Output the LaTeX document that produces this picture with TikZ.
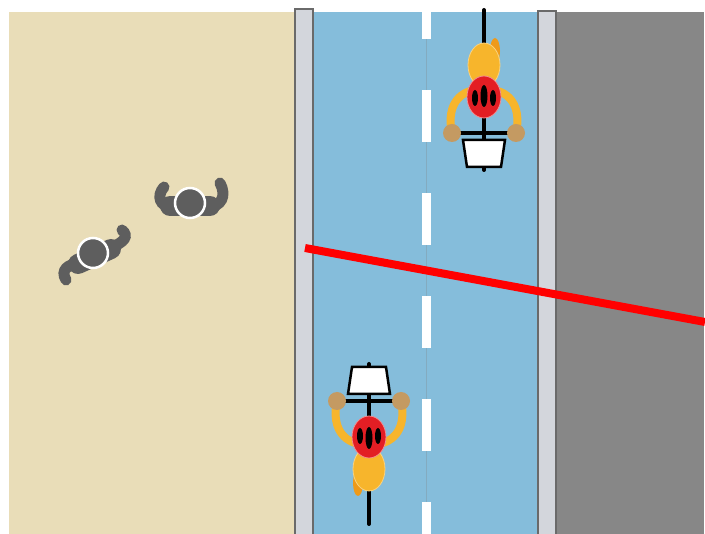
\documentclass[tikz,border=0pt]{standalone}
\usepackage{tikz}

\definecolor{sand}{HTML}{E9DDB8}
\definecolor{lane}{HTML}{85BDDB}
\definecolor{asphalt}{HTML}{878787}
\definecolor{curbfill}{HTML}{D3D6DC}
\definecolor{curbline}{HTML}{6A6A6A}
\definecolor{shirt}{HTML}{F7B52C}
\definecolor{pack}{HTML}{EE9A1A}
\definecolor{skin}{HTML}{C49A62}
\definecolor{helmet}{HTML}{E31E24}
\definecolor{walker}{HTML}{5E5E5E}

\tikzset{
  curb/.style={fill=curbfill,draw=curbline,line width=2.5pt},
  frame/.style={line width=4pt,line cap=round,black},
  arm/.style={draw=shirt,line width=8pt,line cap=round},
  limb/.style={draw=walker,line width=11pt,line cap=round},
  cyclist/.pic={
    \draw[frame] (0,-87) -- (0,73);
    \fill[pack] (11,-46) ellipse (5 and 13);
    \filldraw[fill=shirt,draw=shirt!60!white,line width=0.8pt] (0,-32) ellipse (16 and 22);
    \draw[arm] (-14,-6) .. controls (-32,0) and (-36,18) .. (-32,36);
    \draw[arm] (14,-6) .. controls (32,0) and (36,18) .. (32,36);
    \draw[frame] (-32,36) -- (32,36);
    \fill[skin] (-32,36) circle (9) (32,36) circle (9);
    \filldraw[fill=white,draw=black,line width=2.5pt] (-21,43) -- (21,43) -- (17,70) -- (-17,70) -- cycle;
    \filldraw[fill=helmet,draw=helmet!50!white,line width=0.8pt] (0,0) ellipse (17 and 21);
    \fill[black] (0,-1) ellipse (3.5 and 11) (-9,1) ellipse (3 and 8) (9,1) ellipse (3 and 8);
  }
}

\begin{document}
\begin{tikzpicture}[x=1pt,y=-1pt]
\useasboundingbox (0,0) rectangle (705,534);

% ground
\fill[sand] (9,12) rectangle (295,534);
\fill[lane] (313,12) rectangle (537,534);
\fill[asphalt] (556,12) rectangle (704,534);

% lane marking
\draw[color=lane!70!gray,line width=1pt] (426.5,12) -- (426.5,534);
\begin{scope}
\clip (313,12) rectangle (537,534);
\foreach \y in {-13,90,193,296,399,502}
  \fill[white] (422,\y) rectangle (431,\y+52);
\end{scope}

% curbs
\filldraw[curb] (295,9) rectangle (313,540);
\filldraw[curb] (538,11) rectangle (556,540);

% riders
\pic at (484,97) {cyclist};
\pic[rotate=180] at (369,437) {cyclist};

% walkers
\draw[limb] (164,187) .. controls (156,196) and (160,207) .. (172,207) -- (208,207)
  .. controls (221,207) and (227,196) .. (220,183);
\draw[walker,line width=20pt,line cap=round] (170,206) -- (210,206);
\filldraw[fill=walker,draw=white,line width=2.5pt] (190,203) circle (15);

\draw[limb] (66,280) .. controls (60,270) and (68,264) .. (80,263) -- (110,248)
  .. controls (125,242) and (129,236) .. (122,230);
\draw[walker,line width=20pt,line cap=round] (78,264) -- (111,249);
\filldraw[fill=walker,draw=white,line width=2.5pt] (93,253) circle (15);

% cut line
\coordinate (cut1) at (305,248);
\coordinate (cut2) at (705,322);
\draw[red,line width=8pt] (cut1) -- (cut2);
\end{tikzpicture}
\end{document}
